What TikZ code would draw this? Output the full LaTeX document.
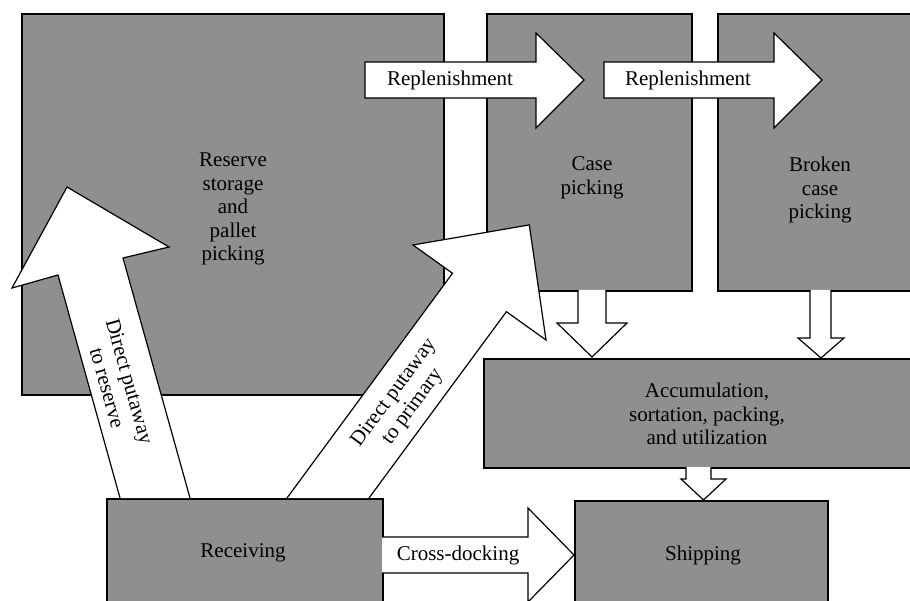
\documentclass[tikz,border=0pt]{standalone}
\usepackage{fontspec}
\setmainfont{Liberation Serif}
\definecolor{shade}{gray}{0.56}
\begin{document}
\begin{tikzpicture}[x=1pt,y=-1pt,
  box/.style={draw=black, line width=1.6pt, fill=shade, inner sep=0pt, anchor=north west},
  blockarrow/.style={draw=black, line width=1.2pt, fill=white, line join=miter},
  lbl/.style={font=\fontsize{21}{23.4}\selectfont, align=center, inner sep=0pt},
]
\useasboundingbox (0,0) rectangle (910,601);
\clip (0,0) rectangle (910,601);

% storage and work areas
\node[box, minimum width=422pt, minimum height=381pt] (reserve) at (21,13) {};
\node[box, minimum width=205pt, minimum height=277pt] (case) at (486,13) {};
\node[box, minimum width=205pt, minimum height=277pt] (broken) at (717,13) {};
\node[box, minimum width=440pt, minimum height=109pt] (accum) at (483,358) {};
\node[box, minimum width=276pt, minimum height=120pt] (receiving) at (106,498) {};
\node[box, minimum width=253pt, minimum height=120pt] (shipping) at (574,500) {};

% replenishment flows
\draw[blockarrow] (365,62) -- (536,62) -- (536,33) -- (584,80) -- (536,128) -- (536,98) -- (365,98) -- cycle;
\draw[blockarrow] (604,62) -- (774,62) -- (774,33) -- (822,80) -- (774,128) -- (774,98) -- (604,98) -- cycle;

% picking areas feed accumulation, accumulation feeds shipping
\draw[blockarrow] (578,290) -- (578,323) -- (557,323) -- (592,357) -- (627,323) -- (606,323) -- (606,290);
\draw[blockarrow] (810,290) -- (810,338) -- (798,338) -- (821,358) -- (844,338) -- (831,338) -- (831,290);
\draw[blockarrow] (686,467) -- (686,479) -- (681,479) -- (703.5,500) -- (726,479) -- (711,479) -- (711,467);

% cross-docking
\draw[blockarrow] (382,537) -- (528,537) -- (528,508) -- (574,555) -- (528,602) -- (528,573) -- (382,573);

% direct putaway to reserve
\draw[blockarrow] (120,498) -- (58,275) -- (12,288) -- (67,187) -- (169,247) -- (123,258) -- (190,498);
% direct putaway to primary
\draw[blockarrow] (287,498) -- (452.5,273.3) -- (413,245) -- (529.3,224.9) -- (546,340) -- (506.4,311.7) -- (369,498);

% labels
\node[lbl] (reserveL) at (233,209) {Reserve\\storage\\and\\pallet\\picking};
\node[lbl] (caseL) at (592,178) {Case\\picking};
\node[lbl] (brokenL) at (820,190) {Broken\\case\\picking};
\node[lbl] (accumL) at (707,414) {Accumulation,\\sortation, packing,\\and utilization};
\node[lbl] (receivingL) at (243,553) {Receiving};
\node[lbl] (shippingL) at (703,555) {Shipping};
\node[lbl] (crossL) at (458,555) {Cross-docking};
\node[lbl] (replA) at (450,80) {Replenishment};
\node[lbl] (replB) at (688,80) {Replenishment};
\node[lbl, rotate=-74.2] (toReserve) at (118.5,384.5) {Direct putaway\\to reserve};
\node[lbl, rotate=53.6] (toPrimary) at (403.5,400) {Direct putaway\\to primary};
\end{tikzpicture}
\end{document}
